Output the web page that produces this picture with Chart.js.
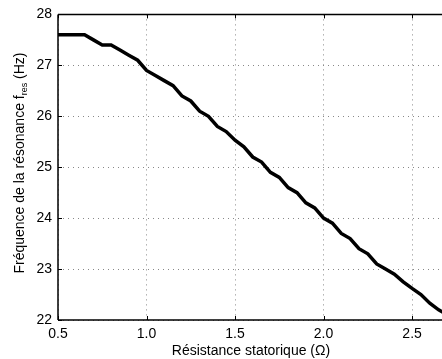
<!DOCTYPE html>
<html>
<head>
<meta charset="utf-8">
<script src="https://cdn.jsdelivr.net/npm/chart.js@4.4.0/dist/chart.umd.min.js"></script>
<style>
  html, body { margin: 0; padding: 0; background: #fff; }
  #wrap { width: 442px; height: 359px; }
</style>
</head>
<body>
<div id="wrap"><canvas id="chart" width="442" height="359"></canvas></div>
<script>
// stator resistance (ohm)
const resistance = [0.5, 0.55, 0.6, 0.65, 0.7, 0.75, 0.8, 0.85, 0.9, 0.95,
  1.0, 1.05, 1.1, 1.15, 1.2, 1.25, 1.3, 1.35, 1.4, 1.45,
  1.5, 1.55, 1.6, 1.65, 1.7, 1.75, 1.8, 1.85, 1.9, 1.95,
  2.0, 2.05, 2.1, 2.15, 2.2, 2.25, 2.3, 2.35, 2.4, 2.45,
  2.5, 2.55, 2.6, 2.65, 2.7];
// resonance frequency (Hz)
const fres = [27.6, 27.6, 27.6, 27.6, 27.5, 27.4, 27.4, 27.3, 27.2, 27.1,
  26.9, 26.8, 26.7, 26.6, 26.4, 26.3, 26.1, 26.0, 25.8, 25.7,
  25.53, 25.4, 25.2, 25.1, 24.9, 24.8, 24.6, 24.5, 24.3, 24.2,
  24.0, 23.9, 23.7, 23.6, 23.4, 23.3, 23.1, 23.0, 22.9, 22.75,
  22.62, 22.5, 22.33, 22.2, 22.1];
const xTicks = [0.5, 1, 1.5, 2, 2.5];
const yTicks = [22, 23, 24, 25, 26, 27, 28];

const FONT = '"Liberation Sans", Arial, Helvetica, sans-serif';

// MATLAB-like box, inward ticks and axis titles
const matlabAxes = {
  id: 'matlabAxes',
  afterDraw(chart) {
    const ctx = chart.ctx;
    const a = chart.chartArea;
    const xs = chart.scales.x, ys = chart.scales.y;
    ctx.save();
    ctx.strokeStyle = '#000';
    ctx.lineWidth = 1.5;
    ctx.beginPath();
    ctx.moveTo(a.left, a.top); ctx.lineTo(a.right, a.top);
    ctx.moveTo(a.left, a.top); ctx.lineTo(a.left, a.bottom);
    ctx.moveTo(a.left, a.bottom); ctx.lineTo(a.right, a.bottom);
    ctx.stroke();

    ctx.lineWidth = 1;
    ctx.beginPath();
    xTicks.forEach(v => {
      const px = Math.round(xs.getPixelForValue(v)) + 0.5;
      ctx.moveTo(px, a.bottom); ctx.lineTo(px, a.bottom - 4);
      ctx.moveTo(px, a.top); ctx.lineTo(px, a.top + 4);
    });
    yTicks.forEach(v => {
      const py = Math.round(ys.getPixelForValue(v)) + 0.5;
      ctx.moveTo(a.left, py); ctx.lineTo(a.left + 4, py);
    });
    ctx.stroke();

    // x title
    ctx.fillStyle = '#000';
    ctx.font = '14px ' + FONT;
    ctx.textAlign = 'center';
    ctx.textBaseline = 'alphabetic';
    ctx.fillText('Résistance statorique (Ω)', 251, 355);

    // y title with subscript
    const p1 = 'Fréquence de la résonance f';
    const sub = 'res';
    const p2 = ' (Hz)';
    ctx.font = '14px ' + FONT;
    const w1 = ctx.measureText(p1).width;
    const w3 = ctx.measureText(p2).width;
    ctx.font = '9px ' + FONT;
    const w2 = ctx.measureText(sub).width;
    const total = w1 + w2 + w3;
    ctx.translate(24, 163);
    ctx.rotate(-Math.PI / 2);
    ctx.textAlign = 'left';
    let x0 = -total / 2;
    ctx.font = '14px ' + FONT;
    ctx.fillText(p1, x0, 0);
    ctx.font = '9px ' + FONT;
    ctx.fillText(sub, x0 + w1, 3);
    ctx.font = '14px ' + FONT;
    ctx.fillText(p2, x0 + w1 + w2, 0);
    ctx.restore();
  }
};

new Chart(document.getElementById('chart'), {
  type: 'line',
  data: {
    datasets: [{
      data: resistance.map((r, i) => ({ x: r, y: fres[i] })),
      borderColor: '#000',
      borderWidth: 3.5,
      pointRadius: 0,
      tension: 0,
      fill: false
    }]
  },
  options: {
    responsive: false,
    animation: false,
    layout: { padding: { top: 14, right: 0, left: 0, bottom: 0 } },
    plugins: { legend: { display: false }, tooltip: { enabled: false } },
    scales: {
      x: {
        type: 'linear',
        min: 0.5,
        max: 2.669,
        afterBuildTicks: s => { s.ticks = xTicks.map(v => ({ value: v })); },
        afterFit: s => { s.height = 39; },
        ticks: {
          font: { family: FONT, size: 14 },
          color: '#000',
          padding: 6,
          maxRotation: 0,
          autoSkip: false
        },
        grid: { color: '#888', lineWidth: 1, drawTicks: false },
        border: { display: false, dash: [1, 4] }
      },
      y: {
        min: 22,
        max: 28,
        afterBuildTicks: s => { s.ticks = yTicks.map(v => ({ value: v })); },
        afterFit: s => { s.width = 58; },
        ticks: {
          font: { family: FONT, size: 14 },
          color: '#000',
          padding: 6
        },
        grid: { color: '#888', lineWidth: 1, drawTicks: false },
        border: { display: false, dash: [1, 4] }
      }
    }
  },
  plugins: [matlabAxes]
});
</script>
</body>
</html>
